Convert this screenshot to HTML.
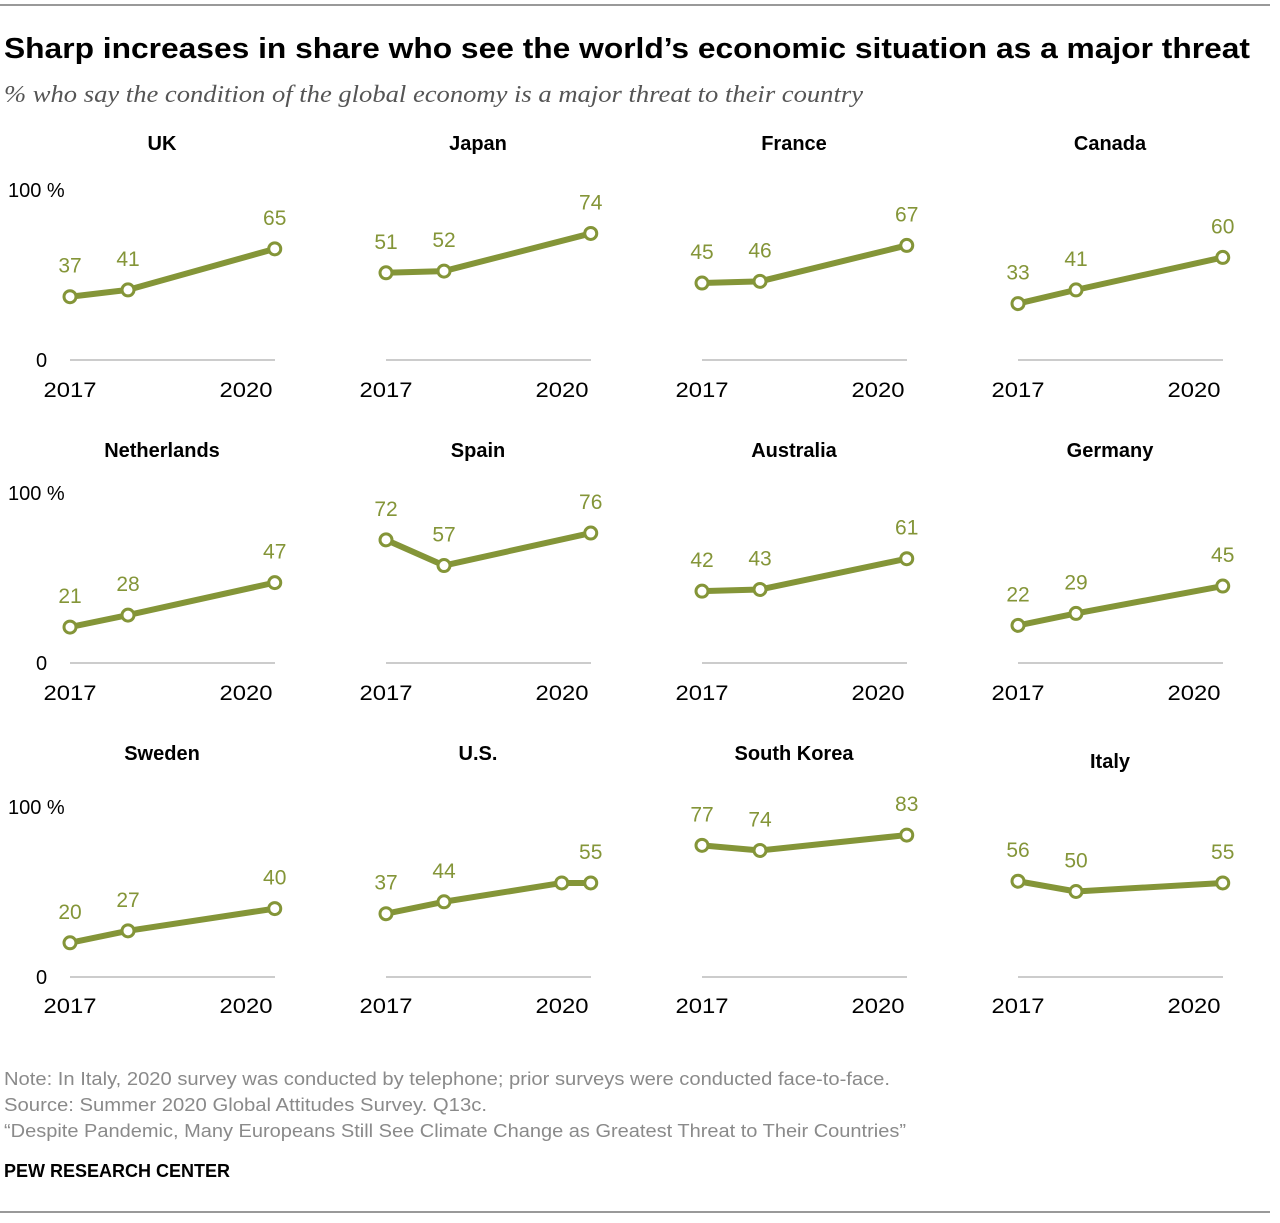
<!DOCTYPE html>
<html><head><meta charset="utf-8">
<style>
body{margin:0;background:#fff;width:1280px;height:1218px;overflow:hidden;font-family:"Liberation Sans",Arial,sans-serif}
</style></head>
<body>
<svg id="c" width="1280" height="1218" xmlns="http://www.w3.org/2000/svg" font-family="Liberation Sans, Arial, sans-serif">
<line x1="0" y1="5" x2="1270" y2="5" stroke="#333" stroke-width="1"/>
<text x="4" y="58" font-size="29" font-weight="bold" fill="#000" textLength="1246" lengthAdjust="spacingAndGlyphs">Sharp increases in share who see the world’s economic situation as a major threat</text>
<text x="4" y="102" font-size="24" font-style="italic" font-family="Liberation Serif, serif" fill="#555" textLength="859" lengthAdjust="spacingAndGlyphs">% who say the condition of the global economy is a major threat to their country</text>
<g id="panels"></g>
<text x="4" y="1085" font-size="18" fill="#8a8a8a" textLength="886" lengthAdjust="spacingAndGlyphs">Note: In Italy, 2020 survey was conducted by telephone; prior surveys were conducted face-to-face.</text>
<text x="4" y="1111" font-size="18" fill="#8a8a8a" textLength="483" lengthAdjust="spacingAndGlyphs">Source: Summer 2020 Global Attitudes Survey. Q13c.</text>
<text x="4" y="1137" font-size="18" fill="#8a8a8a" textLength="902" lengthAdjust="spacingAndGlyphs">“Despite Pandemic, Many Europeans Still See Climate Change as Greatest Threat to Their Countries”</text>
<text x="4" y="1177" font-size="18" font-weight="bold" fill="#000">PEW RESEARCH CENTER</text>
<line x1="0" y1="1212" x2="1270" y2="1212" stroke="#333" stroke-width="1"/>
</svg>
<script>
const countries=["UK","Japan","France","Canada","Netherlands","Spain","Australia","Germany","Sweden","U.S.","South Korea","Italy"];
const v2017=[37,51,45,33,21,72,42,22,20,37,77,56];
const v2018=[41,52,46,41,28,57,43,29,27,44,74,50];
const v2020=[65,74,67,60,47,76,61,45,40,55,83,55];
const usExtra=[55]; // additional 2020 U.S. point
const xPos=[0,1,3.53]; // survey timing (years since spring 2017)
const usExtraX=3.03;
const NS="http://www.w3.org/2000/svg";
const g=document.getElementById('panels');
const colX0=[70,386,702,1018];
const rowBase=[360,663,977];
const titleY=[150,457,760];
const yearY=[397,700,1013];
const pxPerYear=58, pxPerPct=1.71, col="#849538";
function mk(tag,attrs,parent){const e=document.createElementNS(NS,tag);for(const k in attrs)e.setAttribute(k,attrs[k]);(parent||g).appendChild(e);return e;}
countries.forEach((name,i)=>{
  const r=Math.floor(i/4),c=i%4,x0=colX0[c],base=rowBase[r];
  const sx=v=>x0+v*pxPerYear, sy=v=>base-v*pxPerPct;
  const pg=mk('g',{});
  
  
  const t=mk('text',{x:x0+92,y:titleY[r]+(name==="Italy"?8:0),'font-size':20,'font-weight':'bold','text-anchor':'middle',fill:'#000'},pg);t.textContent=name;
  
  
  const ax=mk('line',{x1:x0,x2:x0+205,y1:base,y2:base,stroke:'#999','stroke-width':1},pg);
  
  
  [["2017",x0],["2020",x0+176]].forEach(([s,x])=>{const e=mk('text',{x:x,y:yearY[r],'font-size':21,'text-anchor':'middle',fill:'#000',textLength:53,lengthAdjust:'spacingAndGlyphs'},pg);e.textContent=s;
    
    });
  if(c===0){
    const a=mk('text',{x:8,y:base-171+8,'font-size':20,fill:'#000'},pg);a.textContent="100 %";
    
    
    const z=mk('text',{x:36,y:base+7,'font-size':20,fill:'#000'},pg);z.textContent="0";
    
    
  }
  let pts=[[xPos[0],v2017[i]],[xPos[1],v2018[i]],[xPos[2],v2020[i]]];
  if(name==="U.S.") pts.splice(2,0,[usExtraX,usExtra[0]]);
  const pl=mk('polyline',{points:pts.map(p=>sx(p[0])+','+sy(p[1])).join(' '),fill:'none',stroke:col,'stroke-width':6,'stroke-linejoin':'round'},pg);
  
  
  pts.forEach((p,j)=>{
    const ci=mk('circle',{cx:sx(p[0]),cy:sy(p[1]),r:6,fill:'#fff',stroke:col,'stroke-width':3},pg);
    
    
    if(name==="U.S."&&j===2) return;
    const lb=mk('text',{x:sx(p[0]),y:sy(p[1])-24,'font-size':21,'text-anchor':'middle',fill:col},pg);lb.textContent=p[1];
    
    
  });
});
</script>
</body></html>
